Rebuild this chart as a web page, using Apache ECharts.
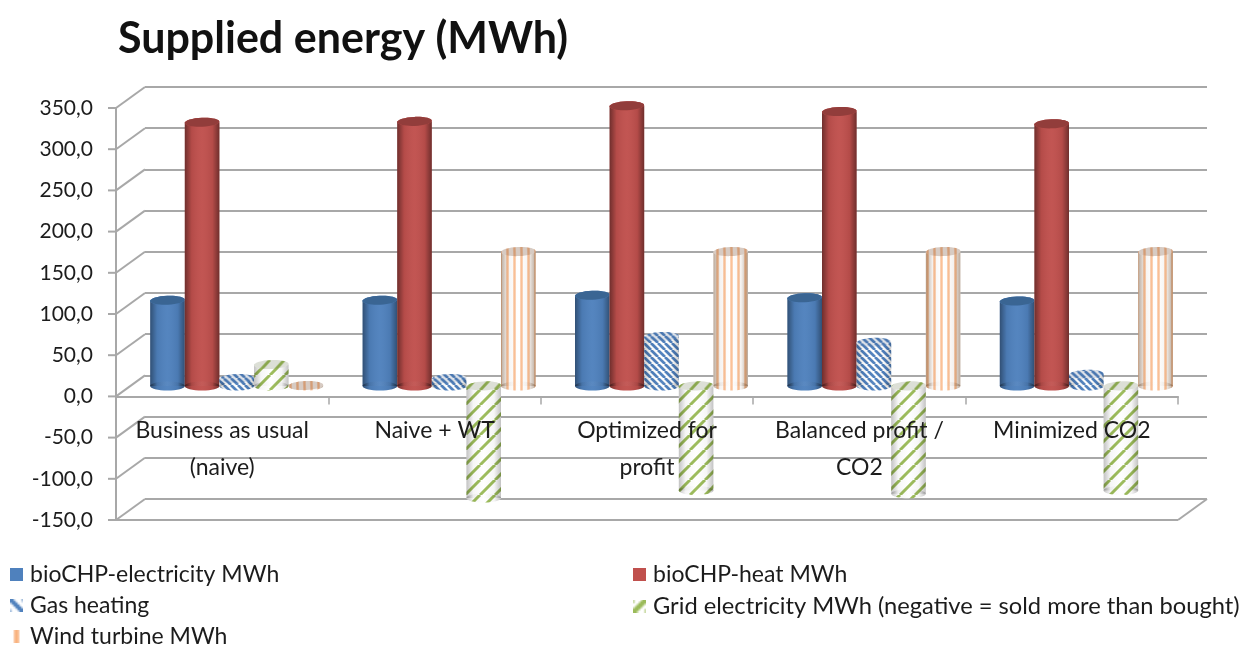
<!DOCTYPE html>
<html>
<head>
<meta charset="utf-8">
<style>html,body{margin:0;padding:0;background:#fff}#chart{width:1244px;height:646px}</style>
<script src="https://cdn.jsdelivr.net/npm/echarts@6/dist/echarts.min.js"></script>
</head>
<body>
<div id="chart"></div>
<script>
const categories = ['Business as usual\n(naive)', 'Naive + WT', 'Optimized for\nprofit', 'Balanced profit /\nCO2', 'Minimized CO2'];
const yTicks = [350, 300, 250, 200, 150, 100, 50, 0, -50, -100, -150];
const bioElectricity = [104, 104, 110, 107, 103];
const bioHeat = [320, 321, 340, 333, 318];
const gasHeating = [9, 9, 60, 53, 14];
const gridElectricity = [26, -136, -127, -131, -127];
const windTurbine = [0.5, 163, 163, 163, 163];

const FONT = 'Lato';
const TEXT = '#1c1c1c';
const WALL = '#a8a8a8';
const DEPTH_X = 29;
const DEPTH_Y = 21;
const BAR_W = 34.6;
const CAP_RY = 4.5;

function hatchCanvas(kind, size, color, lineWidth) {
  const c = document.createElement('canvas');
  c.width = size;
  c.height = size;
  const ctx = c.getContext('2d');
  ctx.fillStyle = '#fff';
  ctx.fillRect(0, 0, size, size);
  ctx.strokeStyle = color;
  ctx.lineWidth = lineWidth;
  ctx.beginPath();
  if (kind === 'vertical') {
    ctx.moveTo(size / 2, 0);
    ctx.lineTo(size / 2, size);
  } else {
    for (let k = -1; k <= 1; k++) {
      if (kind === 'up') {
        ctx.moveTo(k * size, size);
        ctx.lineTo(k * size + size, 0);
      } else {
        ctx.moveTo(k * size, 0);
        ctx.lineTo(k * size + size, size);
      }
    }
  }
  ctx.stroke();
  return c;
}

const gasCanvas = hatchCanvas('down', 7, '#4f80bd', 2.7);
const gridCanvas = hatchCanvas('up', 15, '#9bbb59', 3);
const windCanvas = hatchCanvas('vertical', 7, '#fbbf94', 2.4);
const pattern = c => ({ image: c, repeat: 'repeat' });

function legendIcon(kind, color, lineWidth) {
  return 'image://' + hatchCanvas(kind, 7, color, lineWidth).toDataURL();
}

const barDefs = [
  { name: 'bioCHP-electricity MWh', data: bioElectricity, fill: '#4f81bd', cap: '#3a6593', shade: 0.38, tint: '0,0,0' },
  { name: 'bioCHP-heat MWh', data: bioHeat, fill: '#c0504d', cap: '#923d3b', shade: 0.42, tint: '0,0,0' },
  { name: 'Gas heating', data: gasHeating, fill: pattern(gasCanvas), cap: 'rgba(40,70,110,0.15)', shade: 0.2, tint: '0,0,0' },
  { name: 'Grid electricity MWh (negative = sold more than bought)', data: gridElectricity, fill: pattern(gridCanvas), cap: 'rgba(60,80,30,0.18)', shade: 0.24, tint: '0,0,0' },
  { name: 'Wind turbine MWh', data: windTurbine, fill: pattern(windCanvas), cap: 'rgba(110,70,40,0.28)', shade: 0.5, tint: '120,85,55' },
];

function shadeGradient(a, tint) {
  return {
    type: 'linear', x: 0, y: 0, x2: 1, y2: 0,
    colorStops: [
      { offset: 0, color: `rgba(${tint},${a})` },
      { offset: 0.2, color: `rgba(${tint},${a * 0.15})` },
      { offset: 0.5, color: 'rgba(255,255,255,0.03)' },
      { offset: 0.8, color: `rgba(${tint},${a * 0.15})` },
      { offset: 1, color: `rgba(${tint},${a})` },
    ],
  };
}

function cylinder(seriesIndex, def) {
  return function (params, api) {
    const center = api.coord([api.value(0), api.value(1)]);
    const zero = api.coord([api.value(0), 0]);
    const cx = center[0] + (seriesIndex - 2) * BAR_W;
    const top = Math.min(center[1], zero[1]);
    const bottom = Math.max(center[1], zero[1]);
    const rx = BAR_W / 2;
    const shade = shadeGradient(def.shade, def.tint);
    const body = fill => [
      { type: 'ellipse', shape: { cx, cy: bottom, rx, ry: CAP_RY }, style: { fill } },
      { type: 'rect', shape: { x: cx - rx, y: top, width: BAR_W, height: bottom - top }, style: { fill } },
    ];
    const cap = fill => ({
      type: 'ellipse',
      shape: { cx, cy: top, rx, ry: CAP_RY },
      rotation: 0.04,
      originX: cx,
      originY: top,
      style: { fill },
    });
    return { type: 'group', children: body(def.fill).concat(body(shade), [cap(def.fill), cap(def.cap)]) };
  };
}

// walls of the 3d box: diagonals from the axis to the back wall, and the floor
function renderWalls(params, api) {
  const rect = params.coordSys;
  const p = api.coord([0, api.value(0)]);
  const y = p[1];
  const line = (x1, y1, x2, y2) => ({
    type: 'line',
    shape: { x1, y1, x2, y2 },
    style: { stroke: WALL, lineWidth: 2 },
  });
  const children = [line(rect.x - 8, y, rect.x, y), line(rect.x, y, rect.x + DEPTH_X, y - DEPTH_Y)];
  if (api.value(0) === yTicks[yTicks.length - 1]) {
    const right = rect.x + rect.width;
    children.push(line(rect.x, y, right, y));
    children.push(line(right, y, right + DEPTH_X, y - DEPTH_Y));
  }
  return { type: 'group', children };
}

const gridSize = { width: 1062, height: 412 };
const hiddenY = { type: 'value', min: -150, max: 350, interval: 50, axisLabel: { show: false }, axisLine: { show: false }, axisTick: { show: false }, splitLine: { show: false } };
const hiddenX = { type: 'category', data: categories, axisLine: { show: false }, axisTick: { show: false }, axisLabel: { show: false } };

const legendPos = [[10, 563], [633, 563], [10, 594], [633, 594], [10, 625]];
const legendFontSize = [23, 23, 23, 23.7, 23];
const legendIcons = ['rect', 'rect', legendIcon('down', '#4f81bd', 2.4), legendIcon('up', '#9bbb59', 2.8), legendIcon('vertical', '#f9b27d', 2.6)];

const option = {
  backgroundColor: '#fff',
  animation: false,
  title: {
    text: 'Supplied energy (MWh)',
    left: 113,
    top: 13,
    textStyle: { fontFamily: FONT, fontSize: 43, fontWeight: 'bold', color: '#111' },
  },
  legend: barDefs.map((d, i) => ({
    data: [d.name],
    left: legendPos[i][0],
    top: legendPos[i][1],
    icon: legendIcons[i],
    itemWidth: 13,
    itemHeight: 13,
    itemGap: 0,
    padding: 0,
    selectedMode: false,
    textStyle: { fontFamily: FONT, fontSize: legendFontSize[i], color: TEXT, padding: [0, 0, 0, 2] },
  })),
  grid: [
    { left: 116, top: 108, ...gridSize },
    { left: 116 + DEPTH_X, top: 108 - DEPTH_Y, ...gridSize },
    { left: 116 + DEPTH_X / 2, top: 108 - DEPTH_Y / 2, ...gridSize },
    // runs down to the zero line only, so the category labels hang off it
    { left: 116, top: 108, width: 1062, height: 288.4 },
  ],
  xAxis: [
    {
      // front axis line and ticks, under the bars
      type: 'category', gridIndex: 0, data: categories, z: 1,
      axisLine: { onZero: true, lineStyle: { color: WALL, width: 2 } },
      axisTick: { show: true, length: 8, lineStyle: { color: WALL, width: 1.5 } },
      axisLabel: { show: false },
    },
    { ...hiddenX, gridIndex: 1 },
    { ...hiddenX, gridIndex: 2 },
    {
      // labels sit on top of the bars
      type: 'category', gridIndex: 3, data: categories, z: 10,
      axisLine: { show: false }, axisTick: { show: false },
      axisLabel: { show: true, interval: 0, margin: 16, lineHeight: 37, fontFamily: FONT, fontSize: 23, color: TEXT },
    },
  ],
  yAxis: [
    {
      type: 'value', gridIndex: 0, min: -150, max: 350, interval: 50,
      axisLine: { show: true, onZero: false, lineStyle: { color: WALL, width: 2 } },
      axisTick: { show: false },
      splitLine: { show: false },
      axisLabel: {
        margin: 23,
        fontFamily: FONT, fontSize: 21, color: TEXT,
        formatter: v => v.toFixed(1).replace('.', ','),
      },
    },
    { ...hiddenY, gridIndex: 1, splitLine: { show: true, lineStyle: { color: WALL, width: 2 } } },
    { ...hiddenY, gridIndex: 2 },
    { ...hiddenY, gridIndex: 3 },
  ],
  series: [
    {
      type: 'custom',
      name: 'walls',
      xAxisIndex: 0,
      yAxisIndex: 0,
      z: 1,
      silent: true,
      data: yTicks.map(v => [v]),
      encode: { y: 0 },
      renderItem: renderWalls,
    },
  ].concat(barDefs.map((d, i) => ({
    type: 'custom',
    name: d.name,
    xAxisIndex: 2,
    yAxisIndex: 2,
    z: 5 + i,
    itemStyle: { color: typeof d.fill === 'string' ? d.fill : '#fff' },
    data: d.data.map((v, k) => [k, v]),
    encode: { x: 0, y: 1 },
    renderItem: cylinder(i, d),
  }))),
};

const chart = echarts.init(document.getElementById('chart'));
chart.setOption(option);
</script>
</body>
</html>
